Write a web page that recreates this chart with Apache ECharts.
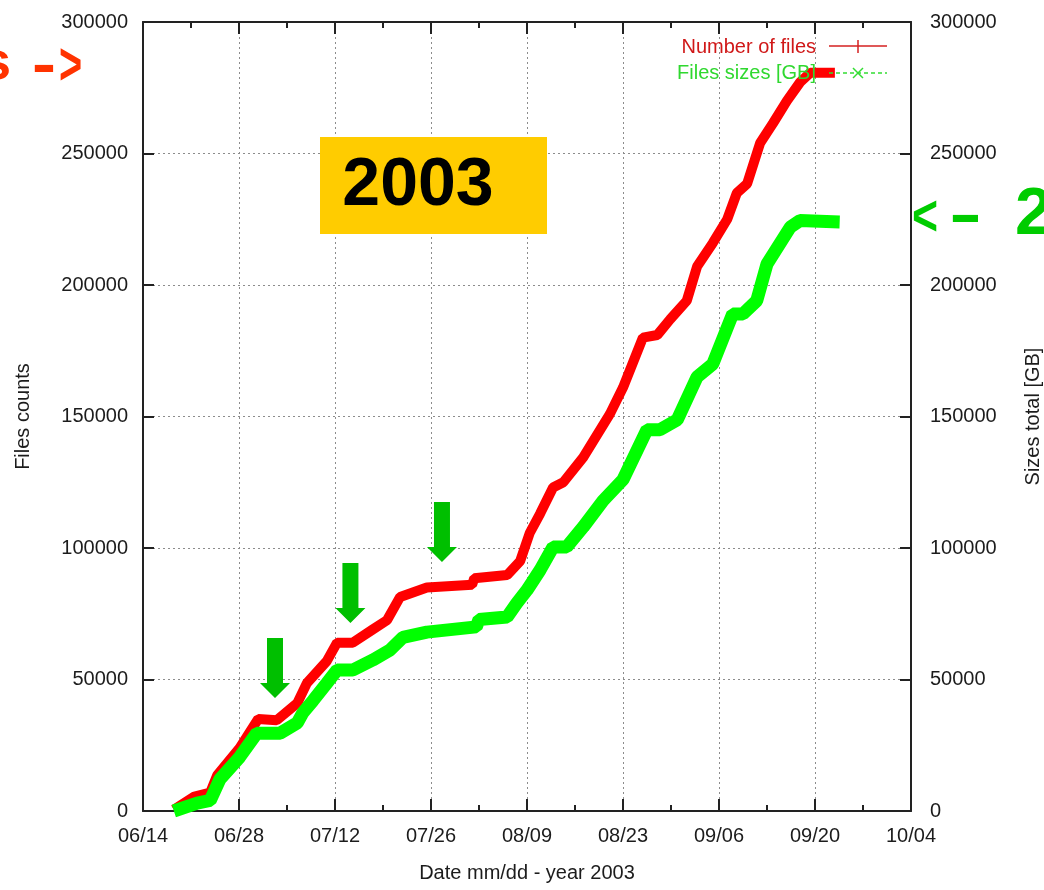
<!DOCTYPE html>
<html>
<head>
<meta charset="utf-8">
<title>Files counts and sizes - 2003</title>
<script src="https://cdn.jsdelivr.net/npm/echarts@6/dist/echarts.min.js"></script>
<style>
  html, body { margin: 0; padding: 0; background: #ffffff; overflow: hidden; }
  #chart { width: 1044px; height: 890px; }
</style>
</head>
<body>
<div id="chart"></div>
<script>
// Days counted from 06/14/2003
const startDate = [2003, 5, 14];
const xTickLabels = ['06/14', '06/28', '07/12', '07/26', '08/09', '08/23', '09/06', '09/20', '10/04'];

// Number of files (left axis)
const filesDays = [4.5, 7.5, 9.8, 10.8, 14.1, 16.8, 19.5, 22.5, 23.9, 26.8, 28.3, 30.6, 33.5, 35.6, 37.5,
  41.4, 48.0, 48.3, 53.1, 55.0, 56.4, 57.9, 59.8, 61.3, 64.2, 68.1, 70.0, 72.9, 75.0, 76.9, 79.3,
  80.8, 83.1, 85.2, 86.6, 88.1, 90.0, 91.9, 93.9, 95.8, 97.3, 100.9];
const filesCounts = [500, 5500, 7000, 13500, 24000, 35000, 34500, 41000, 48600, 57000, 64000, 64000, 69000, 72600, 81400,
  85000, 86000, 88500, 89700, 95000, 105700, 113000, 123000, 125000, 134500, 151000, 161000, 180000, 181000, 187000, 194000,
  207000, 216000, 225000, 235000, 238500, 254000, 261600, 270000, 277000, 280700, 280700];

// Files sizes in GB (right axis)
const sizesDays = [4.5, 7.9, 9.8, 11.2, 14.1, 16.6, 20.0, 22.5, 23.3, 24.8, 26.8, 28.3, 30.6, 33.5, 36.0,
  37.9, 41.4, 48.6, 49.0, 53.1, 54.5, 56.0, 57.9, 59.8, 61.8, 64.2, 67.1, 70.0, 73.5, 75.4, 77.9,
  80.8, 83.1, 86.0, 87.5, 89.5, 91.0, 94.4, 95.8, 101.6];
const sizesGB = [0, 3000, 4000, 12000, 20500, 29600, 29600, 33500, 37300, 42000, 48600, 53600, 53600, 57400, 61200,
  66000, 68000, 70000, 72800, 73800, 79000, 84000, 91600, 100400, 100400, 108000, 118000, 126000, 145000, 145000, 148700,
  165000, 170000, 189000, 189000, 194000, 208000, 222000, 224500, 224000];

// Down arrows marking the slow periods (tip position, left axis units)
const arrowDays = [19.25, 30.25, 43.6];
const arrowLevels = [43000, 71500, 94700];

function zip(xs, ys) { return xs.map((x, i) => [x, ys[i]]); }
function dayLabel(d) {
  const dt = new Date(startDate[0], startDate[1], startDate[2] + Math.round(d));
  const mm = String(dt.getMonth() + 1).padStart(2, '0');
  const dd = String(dt.getDate()).padStart(2, '0');
  return mm + '/' + dd;
}

const FONT = 'Liberation Sans';
const INK = '#1c1c1c';
const axisLineStyle = { color: '#222', width: 2 };
const gridDots = { color: '#8c8c8c', width: 1, type: [2, 3] };

const chart = echarts.init(document.getElementById('chart'), null, { renderer: 'canvas', width: 1044, height: 890 });

const arrowPath = 'path://M7,0 L23,0 L23,45 L30,45 L15,60 L0,45 L7,45 Z';

const option = {
  backgroundColor: '#ffffff',
  animation: false,
  grid: { left: 143, right: 133, top: 22, bottom: 79, containLabel: false, outerBoundsMode: 'none' },
  xAxis: [
    {
      type: 'value', min: 0, max: 112, interval: 14, position: 'bottom',
      name: 'Date mm/dd - year 2003', nameLocation: 'middle', nameGap: 52,
      nameTextStyle: { fontFamily: FONT, fontSize: 20, color: INK },
      axisLine: { show: true, onZero: false, lineStyle: axisLineStyle },
      axisTick: { show: true, inside: true, length: 12, lineStyle: axisLineStyle },
      minorTick: { show: true, splitNumber: 2, length: 6, lineStyle: axisLineStyle },
      axisLabel: {
        show: true, margin: 15, fontFamily: FONT, fontSize: 20, color: INK,
        showMinLabel: true, showMaxLabel: true,
        formatter: v => { const i = Math.round(v / 14); return xTickLabels[i] !== undefined ? xTickLabels[i] : dayLabel(v); }
      },
      splitLine: { show: true, lineStyle: gridDots }
    },
    {
      type: 'value', min: 0, max: 112, interval: 14, position: 'top',
      axisLine: { show: true, onZero: false, lineStyle: axisLineStyle },
      axisTick: { show: true, inside: true, length: 12, lineStyle: axisLineStyle },
      minorTick: { show: true, splitNumber: 2, length: 6, lineStyle: axisLineStyle },
      axisLabel: { show: false },
      splitLine: { show: false }
    }
  ],
  yAxis: [
    {
      type: 'value', min: 0, max: 300000, interval: 50000, position: 'left',
      name: 'Files counts', nameLocation: 'middle', nameGap: 110, nameRotate: 90,
      nameTextStyle: { fontFamily: FONT, fontSize: 20, color: INK },
      axisLine: { show: true, onZero: false, lineStyle: axisLineStyle },
      axisTick: { show: true, inside: true, length: 11, lineStyle: axisLineStyle },
      axisLabel: { show: true, margin: 15, fontFamily: FONT, fontSize: 20, color: INK, formatter: v => String(v) },
      splitLine: { show: true, lineStyle: gridDots }
    },
    {
      type: 'value', min: 0, max: 300000, interval: 50000, position: 'right',
      name: 'Sizes total [GB]', nameLocation: 'middle', nameGap: 112, nameRotate: 90,
      nameTextStyle: { fontFamily: FONT, fontSize: 20, color: INK },
      axisLine: { show: true, onZero: false, lineStyle: axisLineStyle },
      axisTick: { show: true, inside: true, length: 11, lineStyle: axisLineStyle },
      axisLabel: { show: true, margin: 19, fontFamily: FONT, fontSize: 20, color: INK, formatter: v => String(v) },
      splitLine: { show: false }
    }
  ],
  series: [
    {
      name: 'Number of files', type: 'line', xAxisIndex: 0, yAxisIndex: 0,
      data: zip(filesDays, filesCounts),
      showSymbol: false, symbol: 'none', z: 2,
      lineStyle: { color: '#ff0000', width: 10, cap: 'butt', join: 'bevel' },
      markPoint: {
        symbol: arrowPath, symbolSize: [30, 60], symbolOffset: [0, -30],
        itemStyle: { color: '#00bf00' }, label: { show: false }, silent: true,
        data: arrowDays.map((d, i) => ({ coord: [d, arrowLevels[i]] }))
      }
    },
    {
      name: 'Files sizes [GB]', type: 'line', xAxisIndex: 0, yAxisIndex: 1,
      data: zip(sizesDays, sizesGB),
      showSymbol: false, symbol: 'none', z: 3,
      lineStyle: { color: '#00ff00', width: 13, cap: 'butt', join: 'bevel' }
    }
  ],
  graphic: [
    // year badge
    { type: 'rect', z: 50, shape: { x: 320, y: 137, width: 227, height: 97 }, style: { fill: '#ffcc00' } },
    { type: 'text', z: 51, x: 418, y: 186, style: { text: '2003', fontFamily: FONT, fontWeight: 'bold', fontSize: 68, fill: '#000', align: 'center', verticalAlign: 'middle' } },

    // key
    { type: 'text', z: 60, x: 816, y: 47, style: { text: 'Number of files', fontFamily: FONT, fontSize: 20, fill: '#d01818', align: 'right', verticalAlign: 'middle' } },
    { type: 'line', z: 60, shape: { x1: 829, y1: 46, x2: 887, y2: 46 }, style: { stroke: '#d42020', lineWidth: 1.5 } },
    { type: 'line', z: 60, shape: { x1: 858, y1: 40, x2: 858, y2: 53 }, style: { stroke: '#d42020', lineWidth: 1.5 } },
    { type: 'text', z: 60, x: 816, y: 73, style: { text: 'Files sizes [GB]', fontFamily: FONT, fontSize: 20, fill: '#2fd82f', align: 'right', verticalAlign: 'middle' } },
    { type: 'line', z: 60, shape: { x1: 829, y1: 73, x2: 887, y2: 73 }, style: { stroke: '#33dd33', lineWidth: 1.5, lineDash: [4, 3] } },
    { type: 'line', z: 60, shape: { x1: 853, y1: 68, x2: 863, y2: 78 }, style: { stroke: '#33dd33', lineWidth: 1.5 } },
    { type: 'line', z: 60, shape: { x1: 853, y1: 78, x2: 863, y2: 68 }, style: { stroke: '#33dd33', lineWidth: 1.5 } },

    // left pointer "s ->"
    { type: 'text', z: 60, x: 11, y: 64, style: { text: 's', fontFamily: FONT, fontWeight: 'bold', fontSize: 54, fill: '#ff3300', align: 'right', verticalAlign: 'middle' } },
    { type: 'text', z: 60, x: 44, y: 67, scaleX: 1.2, style: { text: '-', fontFamily: FONT, fontWeight: 'bold', fontSize: 60, fill: '#ff3300', align: 'center', verticalAlign: 'middle' } },
    { type: 'text', z: 60, x: 70.5, y: 67.5, scaleX: 0.66, style: { text: '>', fontFamily: FONT, fontWeight: 'bold', fontSize: 60, fill: '#ff3300', align: 'center', verticalAlign: 'middle' } },

    // right pointer "<- 2"
    { type: 'text', z: 60, x: 925, y: 219, scaleX: 0.77, style: { text: '<', fontFamily: FONT, fontWeight: 'bold', fontSize: 58, fill: '#00cc00', align: 'center', verticalAlign: 'middle' } },
    { type: 'text', z: 60, x: 965.5, y: 217, scaleX: 1.65, style: { text: '-', fontFamily: FONT, fontWeight: 'bold', fontSize: 60, fill: '#00cc00', align: 'center', verticalAlign: 'middle' } },
    { type: 'text', z: 60, x: 1015, y: 216, style: { text: '2', fontFamily: FONT, fontWeight: 'bold', fontSize: 67, fill: '#00cc00', align: 'left', verticalAlign: 'middle' } }
  ]
};

chart.setOption(option);
</script>
</body>
</html>
